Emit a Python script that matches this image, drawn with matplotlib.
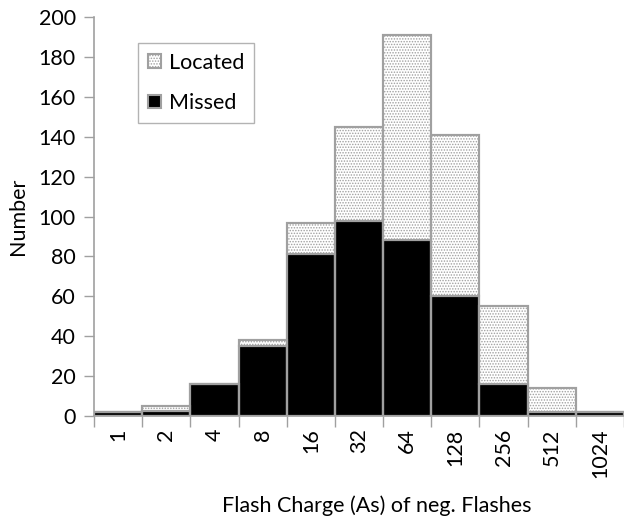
import numpy as np
import matplotlib.pyplot as plt
from matplotlib.ticker import FixedLocator

plt.rcParams['font.family'] = ['Lato', 'DejaVu Sans']
plt.rcParams['hatch.color'] = '#555555'
plt.rcParams['hatch.linewidth'] = 0.7

categories = ['1', '2', '4', '8', '16', '32', '64', '128', '256', '512', '1024']
missed = [2, 2.5, 16, 35, 81, 98, 88, 60, 16, 2, 2]
total = [2, 5, 16, 38, 97, 145, 191, 141, 55, 14, 2]
located = [t - m for t, m in zip(total, missed)]

fig = plt.figure(figsize=(6.24, 5.16), dpi=100)
ax = fig.add_axes([0.1506, 0.1938, 0.8494, 0.773])

x = np.arange(len(categories))
ax.bar(x, missed, width=1.0, color='black', edgecolor='#a0a0a0', linewidth=1.5, label='Missed')
ax.bar(x, located, width=1.0, bottom=missed, color='white', edgecolor='#a0a0a0',
       linewidth=1.5, hatch='......', label='Located')
# gray borders on top of the hatch
ax.bar(x, total, width=1.0, fill=False, edgecolor='#a0a0a0', linewidth=1.5)
ax.bar(x, missed, width=1.0, fill=False, edgecolor='#a0a0a0', linewidth=1.5)

ax.set_xlim(-0.5, len(categories) - 0.5)
ax.set_ylim(0, 200)
ax.set_yticks(range(0, 201, 20))
ax.set_xticks(x)
ax.set_xticklabels(categories, rotation=90, fontsize=15.5)
ax.xaxis.set_minor_locator(FixedLocator(np.arange(-0.5, len(categories), 1.0)))
ax.tick_params(axis='x', which='major', length=0, pad=9)
ax.tick_params(axis='x', which='minor', length=8, color='#a0a0a0', width=1)
ax.tick_params(axis='y', length=7, color='#a0a0a0', width=1, labelsize=15.5, pad=6)

for s in ['top', 'right']:
    ax.spines[s].set_visible(False)
for s in ['left', 'bottom']:
    ax.spines[s].set_color('#a0a0a0')
    ax.spines[s].set_linewidth(1.2)

ax.set_ylabel('Number', fontsize=15.5)
ax.yaxis.set_label_coords(-0.125, 0.5)
ax.set_xlabel('Flash Charge (As) of neg. Flashes', fontsize=15.5, labelpad=14)
ax.xaxis.set_label_coords(0.534, -0.2)

handles, labels = ax.get_legend_handles_labels()
leg = ax.legend([handles[1], handles[0]], [labels[1], labels[0]],
                loc='upper left', bbox_to_anchor=(0.083, 0.935), borderaxespad=0,
                fontsize=15.5, fancybox=False, edgecolor='#a0a0a0',
                handlelength=0.6, handleheight=0.6, handletextpad=0.4,
                labelspacing=0.95, borderpad=0.45)
leg.get_frame().set_linewidth(1.0)

fig.savefig('out.png', dpi=100)
